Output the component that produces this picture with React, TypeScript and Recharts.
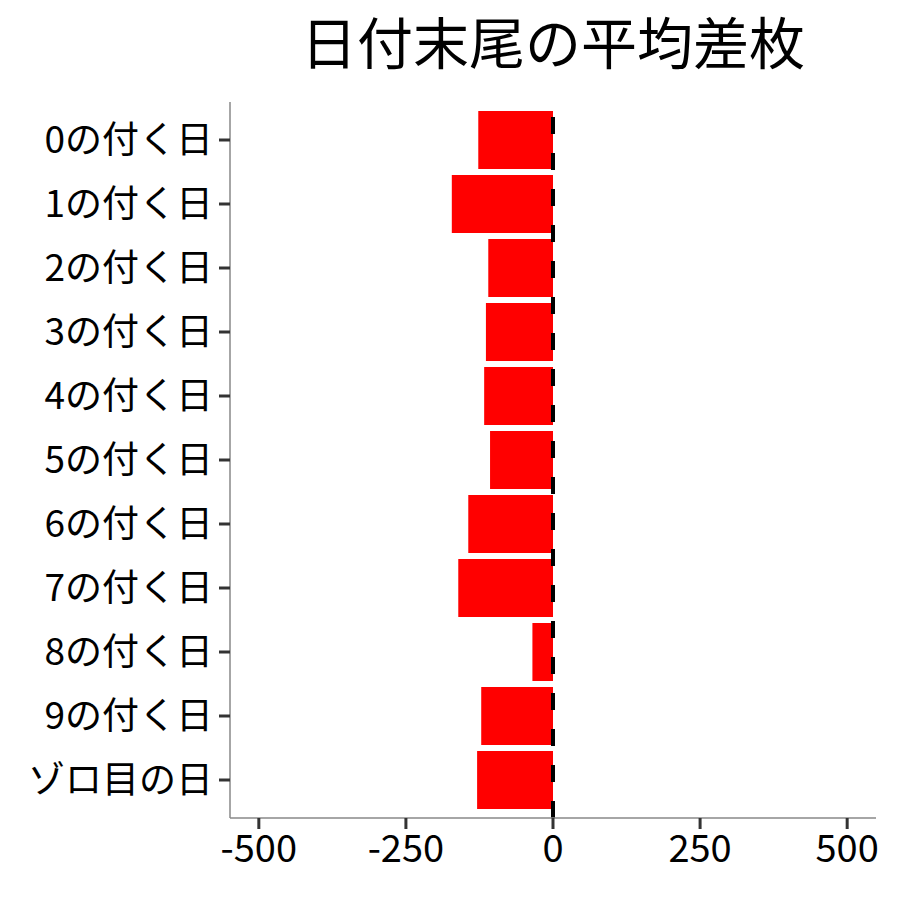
import { BarChart, Bar, XAxis, YAxis, ReferenceLine } from 'recharts'

const categories = [
  '0の付く日', '1の付く日', '2の付く日', '3の付く日', '4の付く日', '5の付く日',
  '6の付く日', '7の付く日', '8の付く日', '9の付く日', 'ゾロ目の日',
]
const avgDiff = [-127, -172, -110, -114, -117, -107, -144, -161, -35, -122, -129]
const xTicks = [-500, -250, 0, 250, 500]

const data = categories.map((name, i) => ({ name, value: avgDiff[i] }))

const font = '"Noto Sans CJK JP", "Noto Sans", sans-serif'

export default function App() {
  return (
    <div style={{ position: 'absolute', left: 0, top: 0, width: 900, height: 900, background: '#fff', fontFamily: font }}>
      <div
        style={{
          position: 'absolute', left: 230, width: 646, top: 4, textAlign: 'center',
          fontSize: 56, lineHeight: '72px', color: '#000',
        }}
      >
        日付末尾の平均差枚
      </div>
      <BarChart
        width={900}
        height={900}
        data={data}
        layout="vertical"
        margin={{ top: 102, right: 24, bottom: 0, left: 0 }}
      >
        <XAxis
          type="number"
          domain={[-549, 549]}
          ticks={xTicks}
          allowDataOverflow
          height={82}
          tickSize={11}
          tickMargin={6}
          axisLine={{ stroke: '#888', strokeWidth: 1.5 }}
          tickLine={{ stroke: '#333', strokeWidth: 3 }}
          tick={{ fill: '#000', fontSize: 38, fontFamily: font }}
        />
        <YAxis
          type="category"
          dataKey="name"
          width={230}
          padding={{ top: 6, bottom: 6 }}
          tickSize={11}
          tickMargin={6}
          axisLine={{ stroke: '#888', strokeWidth: 1.5 }}
          tickLine={{ stroke: '#333', strokeWidth: 3 }}
          tick={{ fill: '#000', fontSize: 37, fontFamily: font }}
          interval={0}
        />
        <Bar dataKey="value" fill="#ff0000" barSize={58} isAnimationActive={false} />
        <ReferenceLine x={0} stroke="#000" strokeWidth={4} strokeDasharray="17 19" />
      </BarChart>
    </div>
  )
}
